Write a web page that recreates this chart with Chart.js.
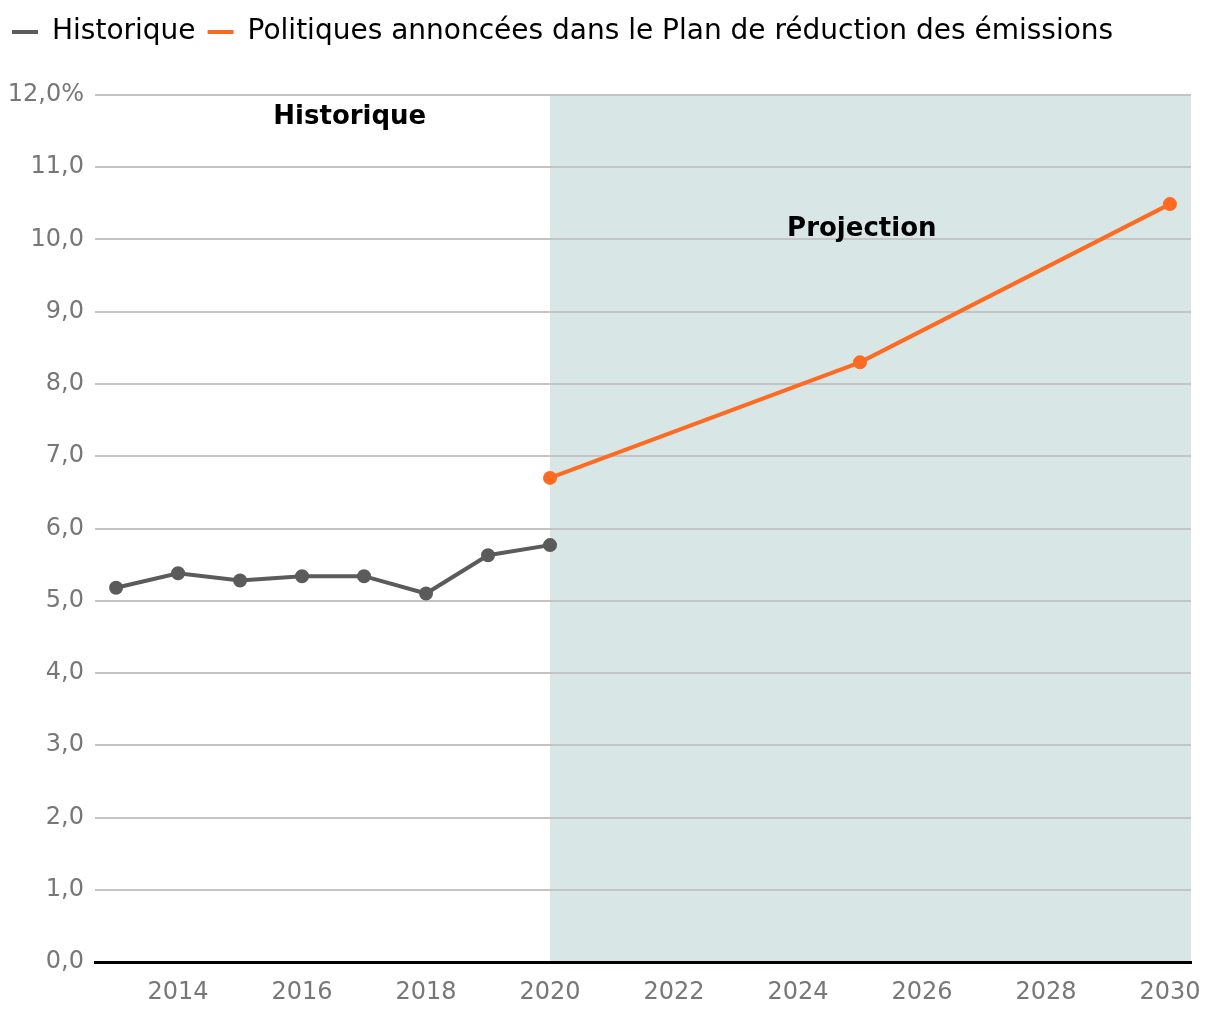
<!DOCTYPE html>
<html>
<head>
<meta charset="utf-8">
<script src="https://cdn.jsdelivr.net/npm/chart.js@4/dist/chart.umd.min.js"></script>
<style>
	body { margin: 0; background: #fff; }
	#wrap { width: 1220px; height: 1020px; }
</style>
</head>
<body>
<div id="wrap"><canvas id="chart"></canvas></div>
<script>
const histYears = [2013, 2014, 2015, 2016, 2017, 2018, 2019, 2020];
const histValues = [5.18, 5.38, 5.28, 5.34, 5.34, 5.10, 5.63, 5.77];
const projYears = [2020, 2025, 2030];
const projValues = [6.70, 8.30, 10.49];
const xTicks = [2014, 2016, 2018, 2020, 2022, 2024, 2026, 2028, 2030];
const yTicks = [0, 1, 2, 3, 4, 5, 6, 7, 8, 9, 10, 11, 12];
const projectionStart = 2020;

const FONT = "'DejaVu Sans', sans-serif";

// shaded projection zone + the two zone titles
const zones = {
	id: "zones",
	afterInit(chart) {
		// leave room between the legend and the plot
		const fit = chart.legend.fit;
		chart.legend.fit = function () {
			fit.call(this);
			this.height += 39;
		};
	},
	beforeDraw(chart) {
		const c = chart.ctx, a = chart.chartArea, x = chart.scales.x;
		c.save();
		c.fillStyle = "#d8e6e6";
		const x0 = x.getPixelForValue(projectionStart);
		c.fillRect(x0, a.top, a.right - x0, a.bottom - a.top);
		c.restore();
	},
	afterDatasetsDraw(chart) {
		const c = chart.ctx, x = chart.scales.x, y = chart.scales.y;
		c.save();
		c.fillStyle = "#000";
		c.font = "bold 26px " + FONT;
		c.textAlign = "center";
		c.textBaseline = "middle";
		c.fillText("Historique", x.getPixelForValue(2016.77), y.getPixelForValue(11.69));
		c.fillText("Projection", x.getPixelForValue(2025.03), y.getPixelForValue(10.14));
		c.restore();
	}
};

let ctx = document.getElementById("chart");
let data = {
	datasets: [{
		label: "Historique",
		data: histYears.map((yr, i) => ({ x: yr, y: histValues[i] })),
		borderColor: "#5b5b5b",
		backgroundColor: "#5b5b5b",
		borderWidth: 4,
		pointRadius: 5,
		pointHoverRadius: 5,
		showLine: true
	}, {
		label: "Politiques annoncées dans le Plan de réduction des émissions",
		data: projYears.map((yr, i) => ({ x: yr, y: projValues[i] })),
		borderColor: "#fd6a21",
		backgroundColor: "#fd6a21",
		borderWidth: 4,
		pointRadius: 5,
		pointHoverRadius: 5,
		showLine: true
	}]
};
const config = {
	type: "scatter",
	data: data,
	plugins: [zones],
	options: {
		responsive: true,
		maintainAspectRatio: false,
		animation: false,
		layout: { padding: { left: 0, right: 29, top: 6, bottom: 0 } },
		plugins: {
			tooltip: { enabled: false },
			legend: {
				position: "top",
				align: "start",
				labels: {
					boxWidth: 26,
					boxHeight: 4,
					padding: 12,
					color: "#000",
					font: { family: FONT, size: 28 },
					generateLabels(chart) {
						return chart.data.datasets.map((ds, i) => ({
							text: ds.label,
							fillStyle: ds.borderColor,
							strokeStyle: ds.borderColor,
							lineWidth: 0,
							datasetIndex: i,
							fontColor: "#000"
						}));
					}
				}
			}
		},
		scales: {
			x: {
				type: "linear",
				min: 2012.66,
				max: 2030.34,
				afterBuildTicks(scale) {
					scale.ticks = xTicks.map(v => ({ value: v }));
				},
				afterFit(scale) { scale.height = 58; },
				grid: { display: false },
				border: { display: true, color: "#000", width: 3 },
				ticks: {
					color: "#777",
					padding: 8,
					maxRotation: 0,
					font: { family: FONT, size: 24 },
					callback: v => String(v)
				}
			},
			y: {
				min: 0,
				max: 12,
				afterBuildTicks(scale) {
					scale.ticks = yTicks.map(v => ({ value: v }));
				},
				afterFit(scale) { scale.width = 95; },
				grid: { color: "#c4c4c4", lineWidth: 2, drawTicks: false },
				border: { display: false },
				ticks: {
					color: "#777",
					padding: 11,
					font: { family: FONT, size: 24 },
					callback: v => v === 12 ? "12,0%" : v.toFixed(1).replace(".", ",")
				}
			}
		}
	}
};
let chart = new Chart(ctx, config);
</script>
</body>
</html>
